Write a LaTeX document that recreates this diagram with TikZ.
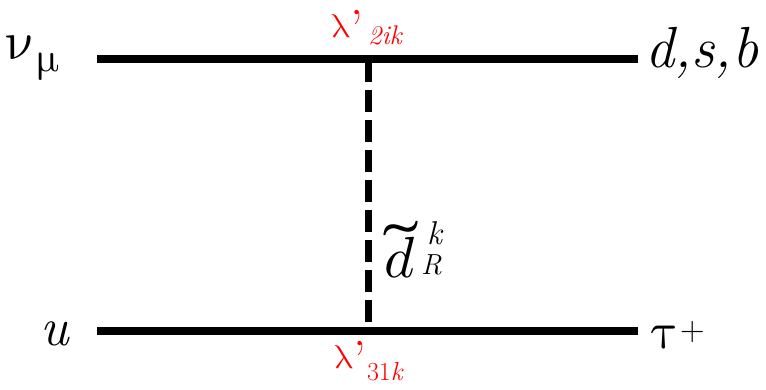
\documentclass[tikz,border=0pt]{standalone}
\usepackage{fontspec}
\usepackage{unicode-math}
\setmathfont{Latin Modern Math}
\newcommand{\fsz}[1]{\fontsize{#1}{#1}\selectfont}
\newcommand{\bigq}{\raisebox{-9pt}{\fsz{52}’}}
\begin{document}
\begin{tikzpicture}[x=1pt,y=-1pt,
  prop/.style={line width=8pt,line cap=butt},
  scalar/.style={line width=7pt,dash pattern=on 22pt off 8pt,line cap=butt},
  lbl/.style={inner sep=0pt,outer sep=0pt,anchor=base west},
  coup/.style={lbl,text=red}]
\useasboundingbox (0,0) rectangle (766,390);
% endpoints
\coordinate (tl) at (97,59);
\coordinate (tr) at (638,59);
\coordinate (bl) at (97,331);
\coordinate (br) at (638,331);
\coordinate (vt) at (368.5,60);
\coordinate (vb) at (368.5,330);
% lines
\draw[prop] (tl) -- (tr);
\draw[prop] (bl) -- (br);
\draw[scalar] (vt) -- (vb);
% external particles
\node[lbl,font=\fsz{54}] (nu) at (8,60) {$\symup{\nu}$};
\node[lbl,font=\fsz{42}] (mu) at (36,72) {$\symup{\mu}$};
\node[lbl,font=\fsz{54}\itshape] (u) at (40,345) {u};
\node[lbl,font=\fsz{58}\itshape] (dsb) at (645,68) {d,s,b};
\node[lbl,font=\fsz{52}] (tau) at (651,348) {$\symup{\tau}$};
\node[lbl,font=\fsz{34}] (plus) at (680,340) {+};
% couplings
\node[coup,font=\fsz{33}] (lamt) at (331,38) {$\symup{\lambda}$\bigq};
\node[coup,font=\fsz{27}\itshape] (lamtsub) at (368,45) {2ik};
\node[coup,font=\fsz{33}] (lamb) at (334,368) {$\symup{\lambda}$\bigq};
\node[coup,font=\fsz{26}] (lambsub) at (367,380) {31\textit{k}};
% squark label
\node[lbl,font=\fsz{58}] (sq) at (384,278) {$d$};
\node[inner sep=0pt,outer sep=0pt,anchor=north,font=\fsz{58}] (sqt) at (401,221) {\scalebox{1.6}[1.3]{$\widetilde{\hphantom{d}}$}};
\node[lbl,font=\fsz{33}\itshape] (sqk) at (427,245) {k};
\node[lbl,font=\fsz{29}\itshape] (sqR) at (421,275) {R};
\end{tikzpicture}
\end{document}
